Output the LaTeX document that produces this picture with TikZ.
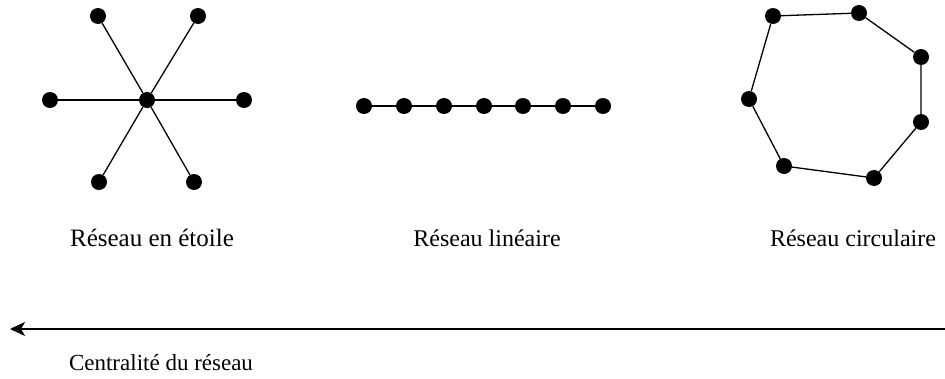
\documentclass[tikz,border=0pt]{standalone}
\usepackage{fontspec}
\setmainfont{Liberation Serif}
\usetikzlibrary{arrows.meta}
\begin{document}
\begin{tikzpicture}[x=1pt,y=-1pt,
  vertex/.style={circle,fill=black,inner sep=0pt,minimum size=16pt},
  edge/.style={line width=1.3pt},
  caption/.style={anchor=base,font=\fontsize{24}{28}\selectfont,inner sep=0pt}]
\useasboundingbox (0,0) rectangle (945,378);

% star network
\node[vertex] (s0) at (147,100) {};
\node[vertex] (s1) at (50,100) {};
\node[vertex] (s2) at (244,100) {};
\node[vertex] (s3) at (98,16) {};
\node[vertex] (s4) at (198,16) {};
\node[vertex] (s5) at (99,182) {};
\node[vertex] (s6) at (194,182) {};
\foreach \n in {s1,s2,s3,s4,s5,s6}
  \draw[edge] (s0) -- (\n);

% linear network
\foreach \i/\x in {1/364,2/404,3/444,4/484,5/523,6/563,7/603}
  \node[vertex] (l\i) at (\x,106) {};
\foreach \a/\b in {1/2,2/3,3/4,4/5,5/6,6/7}
  \draw[edge] (l\a) -- (l\b);

% ring network
\node[vertex] (c1) at (773,16) {};
\node[vertex] (c2) at (859,13) {};
\node[vertex] (c3) at (921,57) {};
\node[vertex] (c4) at (921,122) {};
\node[vertex] (c5) at (874,178) {};
\node[vertex] (c6) at (784,166) {};
\node[vertex] (c7) at (749,99) {};
\draw[edge] (c1) -- (c2) -- (c3) -- (c4) -- (c5) -- (c6) -- (c7) -- (c1);

% captions
\node[caption,font=\fontsize{25}{28}\selectfont] (t1) at (152,246) {Réseau en étoile};
\node[caption] (t2) at (487,246) {Réseau linéaire};
\node[caption] (t3) at (853,246) {Réseau circulaire};

% centrality axis
\coordinate (ax0) at (945,329);
\coordinate (ax1) at (10,329);
\draw[line width=1.6pt,-{Stealth[length=15pt,width=14pt,inset=4pt]}] (ax0) -- (ax1);
\node[caption,font=\fontsize{23}{28}\selectfont] (t4) at (161,370) {Centralité du réseau};
\end{tikzpicture}
\end{document}
